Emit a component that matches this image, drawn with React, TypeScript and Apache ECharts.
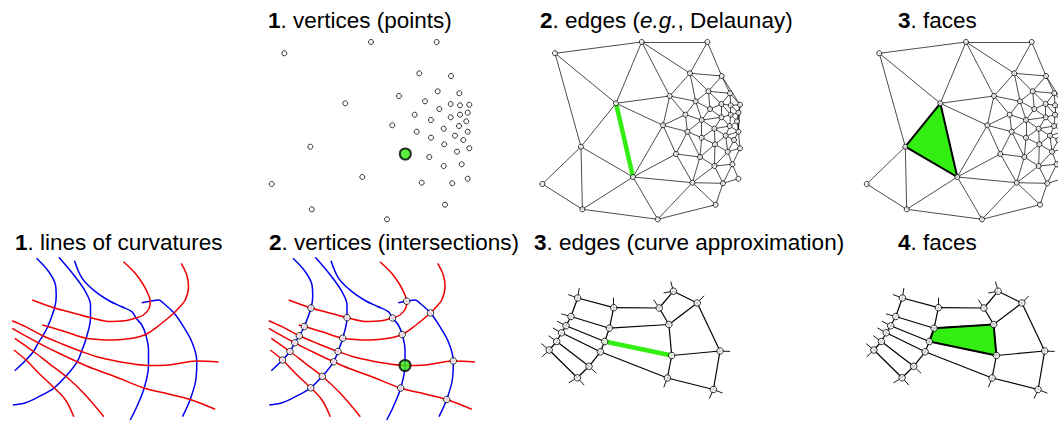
import { useEffect, useRef } from 'react';
import * as echarts from 'echarts';

// ---------------- titles ----------------
const topTitles = ['{b|1}. vertices (points)', '{b|2}. edges ({i|e.g.}, Delaunay)', '{b|3}. faces'];
const bottomTitles = ['{b|1}. lines of curvatures', '{b|2}. vertices (intersections)', '{b|3}. edges (curve approximation)', '{b|4}. faces'];

// ---------------- top row: sample points ----------------
const pointX = [284.3, 371, 436.7, 419.3, 451, 437.7, 459.3, 399, 425, 345.3, 450.7, 460, 469.3, 439.3, 467.7, 460, 414.7, 450.7, 431, 466.3, 392.3, 459, 443.7, 416.7, 467.7, 455, 431, 463.3, 444.3, 310.3, 469.3, 457, 405.3, 429.3, 461.7, 443.7, 362.3, 467.7, 421.7, 271.7, 452.3, 445, 311.7, 387];
const pointY = [53.3, 42, 42, 73.3, 76, 91.3, 93.3, 96, 101.3, 103.3, 104, 105.3, 104.7, 109, 112.7, 114.7, 114.7, 117.3, 120, 121.3, 125.3, 126, 128.7, 131.7, 131.7, 135.7, 137.7, 140, 144.3, 146.7, 148.3, 151.7, 154, 157, 164.3, 166, 177, 178.7, 182.7, 184, 183.3, 204.7, 209.3, 219.3];
const highlightPoint = 32;
const highlightEdge = [9, 36];
const highlightTriangle = [29, 9, 36];

// ---------------- bottom row: intersections of curvature lines ----------------
const vertexX = [311, 304.3, 299.3, 294.8, 290, 282.5, 347, 342.7, 338, 333.7, 322.3, 310.7, 392.5, 402.2, 405, 400.7, 406.7, 430.5, 453.3, 446.7];
const vertexY = [308, 326.5, 335.8, 342.8, 351.5, 360, 317.7, 338.2, 351.5, 361.8, 376.3, 387.8, 318, 334.5, 365.5, 388, 301.2, 313, 361, 399.5];
const highlightVertex = 14;
const highlightCurveEdge = [8, 14];
const highlightFace = [7, 13, 14, 8];

// curves: a number is a vertex index, a pair is a shaping point
type Item = number | number[];
const blueCurves: Item[][] = [
  [[293, 258.3], [305.3, 271.7], [312, 285], [312.7, 296.7], 0, 1, 2, 3, 4, 5, [271.3, 370.7]],
  [[315.3, 257.3], [330.3, 275], [342, 291.7], [347, 305], 6, 7, 8, 9, 10, 11, [295.3, 396.7], [282, 402.7], [269.3, 405]],
  [[331, 260.7], [338.7, 278.3], [352, 291.7], [366, 301], [378.3, 306.7], [388.3, 311.7], 12, [398.3, 325], 13, [405, 350], 14, 15, [393.3, 406.7], [386.7, 420]],
  [[398.3, 302.7], 16, [415, 300], [420, 303.3], 17, [440, 326.7], [448.3, 341.7], 18, [452.3, 380], 19, [439, 416.7]],
];
const redCurves: Item[][] = [
  [[380, 261.7], [391.7, 273.3], [400, 285], [405, 295], 16, [405.7, 308.3], [400, 315], 12, [381.7, 320.7], [368, 321.5], 6, [328.7, 312.7], 0, [288.7, 300]],
  [[437.7, 263.3], [443.3, 275], [445, 286.7], [441.7, 300], [435, 308.3], 17, [416, 325], 13, [388.3, 338.3], [370, 340], 7, [322, 331.7], 1, [298.7, 325]],
  [[268.7, 320.7], [282, 326.7], 2, [318.7, 344], 8, [355.3, 357.3], [381.7, 362.7], 14, [425, 365], 18, [475, 362]],
  [[268.7, 328.3], 3, [314, 352.5], 9, [348.7, 368.3], [370, 376], 15, [425, 394], 19, [471.7, 409.3]],
  [[271.3, 338.3], 4, [305.3, 363.3], 10, [340.3, 393.3], [360.3, 416.7]],
  [[270.3, 350], 5, [295.3, 373.3], 11, [322, 400], [330.3, 416.7]],
];

// ---------------- layout (styles / positions) ----------------
const TOP_SHIFT = [0, 270.7, 595];
const BOT_SHIFT_X = [-256.5, 0, 266.7, 591.4];
const BOT_SHIFT_Y = [0, 0, -10, -10];
const TOP_RANGE = { x0: 255, x1: 485, y0: 30, y1: 230 };
const BOT_RANGE = { x0: 262, x1: 482, y0: 250, y1: 430 };
const TOP_TITLE_LEFT = [268, 540, 898];
const BOT_TITLE_LEFT = [15, 269, 534, 898];
const GREEN = '#33ee11';
const BLUE = '#0000f0';
const RED = '#f00000';
const FONT = '"Liberation Sans", Arial, sans-serif';
const STUB = 10;

// ---------------- geometry helpers ----------------
function delaunay(xs: number[], ys: number[]): number[][] {
  const n = xs.length;
  const px = xs.slice();
  const py = ys.slice();
  const minX = Math.min(...xs), maxX = Math.max(...xs), minY = Math.min(...ys), maxY = Math.max(...ys);
  const d = Math.max(maxX - minX, maxY - minY) * 30;
  const cx = (minX + maxX) / 2, cy = (minY + maxY) / 2;
  px.push(cx - d, cx, cx + d);
  py.push(cy - d, cy + d, cy - d);
  const circ = (a: number, b: number, c: number) => {
    const ax = px[a], ay = py[a], bx = px[b], by = py[b], qx = px[c], qy = py[c];
    const D = 2 * (ax * (by - qy) + bx * (qy - ay) + qx * (ay - by));
    const A = ax * ax + ay * ay, B = bx * bx + by * by, C = qx * qx + qy * qy;
    const ux = (A * (by - qy) + B * (qy - ay) + C * (ay - by)) / D;
    const uy = (A * (qx - bx) + B * (ax - qx) + C * (bx - ax)) / D;
    return { a, b, c, x: ux, y: uy, r2: (ax - ux) ** 2 + (ay - uy) ** 2 };
  };
  let tris = [circ(n, n + 1, n + 2)];
  for (let i = 0; i < n; i++) {
    const good: any[] = [];
    const edges = new Map<string, number[]>();
    for (const t of tris) {
      if ((px[i] - t.x) ** 2 + (py[i] - t.y) ** 2 < t.r2) {
        for (const [u, v] of [[t.a, t.b], [t.b, t.c], [t.c, t.a]]) {
          const k = u < v ? u + '_' + v : v + '_' + u;
          const e = edges.get(k);
          if (e) e[2]++;
          else edges.set(k, [u, v, 1]);
        }
      } else good.push(t);
    }
    for (const [u, v, c] of edges.values()) if (c === 1) good.push(circ(u, v, i));
    tris = good;
  }
  return tris.filter((t) => t.a < n && t.b < n && t.c < n).map((t) => [t.a, t.b, t.c]);
}

function edgeKey(u: number, v: number) {
  return u < v ? u + '_' + v : v + '_' + u;
}

function trimHull(tris: number[][], xs: number[], ys: number[], maxDeg: number): number[][] {
  const cnt = new Map<string, number>();
  for (const t of tris)
    for (let j = 0; j < 3; j++) {
      const k = edgeKey(t[j], t[(j + 1) % 3]);
      cnt.set(k, (cnt.get(k) || 0) + 1);
    }
  return tris.filter((t) => {
    for (let j = 0; j < 3; j++) {
      const u = t[j], v = t[(j + 1) % 3], w = t[(j + 2) % 3];
      if (cnt.get(edgeKey(u, v)) !== 1) continue;
      const ax = xs[u] - xs[w], ay = ys[u] - ys[w], bx = xs[v] - xs[w], by = ys[v] - ys[w];
      const ang = (Math.acos((ax * bx + ay * by) / Math.hypot(ax, ay) / Math.hypot(bx, by)) * 180) / Math.PI;
      if (ang > maxDeg) return false;
    }
    return true;
  });
}

function uniqueEdges(tris: number[][]): number[][] {
  const m = new Map<string, number[]>();
  for (const t of tris)
    for (let j = 0; j < 3; j++) {
      const u = t[j], v = t[(j + 1) % 3];
      m.set(edgeKey(u, v), [u, v]);
    }
  return [...m.values()];
}

const P = (i: number) => [pointX[i], pointY[i]];
const V = (i: number) => [vertexX[i], vertexY[i]];
const resolve = (seq: Item[]) => seq.map((s) => (typeof s === 'number' ? V(s) : (s as number[])));

function buildOption() {
  const grid: any[] = [];
  const xAxis: any[] = [];
  const yAxis: any[] = [];
  TOP_SHIFT.forEach((sx, k) => {
    grid.push({ left: TOP_RANGE.x0 + sx, top: TOP_RANGE.y0, width: TOP_RANGE.x1 - TOP_RANGE.x0, height: TOP_RANGE.y1 - TOP_RANGE.y0, outerBoundsMode: 'none', containLabel: false });
    xAxis.push({ type: 'value', gridIndex: k, min: TOP_RANGE.x0, max: TOP_RANGE.x1, show: false });
    yAxis.push({ type: 'value', gridIndex: k, min: TOP_RANGE.y0, max: TOP_RANGE.y1, inverse: true, show: false });
  });
  BOT_SHIFT_X.forEach((sx, j) => {
    const k = j + 3;
    grid.push({ left: BOT_RANGE.x0 + sx, top: BOT_RANGE.y0 + BOT_SHIFT_Y[j], width: BOT_RANGE.x1 - BOT_RANGE.x0, height: BOT_RANGE.y1 - BOT_RANGE.y0, outerBoundsMode: 'none', containLabel: false });
    xAxis.push({ type: 'value', gridIndex: k, min: BOT_RANGE.x0, max: BOT_RANGE.x1, show: false });
    yAxis.push({ type: 'value', gridIndex: k, min: BOT_RANGE.y0, max: BOT_RANGE.y1, inverse: true, show: false });
  });

  const series: any[] = [];
  const tris = trimHull(delaunay(pointX, pointY), pointX, pointY, 110);
  const triEdges = uniqueEdges(tris);

  const smallPt = { color: '#fff', borderColor: '#000', borderWidth: 1 };
  const bigPt = { color: GREEN, borderColor: '#000', borderWidth: 2 };

  // top panels
  for (let k = 0; k < 3; k++) {
    if (k > 0) {
      series.push({
        type: 'lines', coordinateSystem: 'cartesian2d', xAxisIndex: k, yAxisIndex: k, silent: true, z: 1,
        data: triEdges.map(([a, b]) => ({ coords: [P(a), P(b)] })),
        lineStyle: { color: '#111', width: 0.75, opacity: 1 },
      });
    }
    if (k === 1) {
      series.push({
        type: 'lines', coordinateSystem: 'cartesian2d', xAxisIndex: k, yAxisIndex: k, silent: true, z: 2,
        data: [{ coords: [P(highlightEdge[0]), P(highlightEdge[1])] }],
        lineStyle: { color: GREEN, width: 4.5, opacity: 1 },
      });
    }
    if (k === 2) {
      series.push({
        type: 'custom', coordinateSystem: 'cartesian2d', xAxisIndex: k, yAxisIndex: k, silent: true, z: 2, clip: false,
        data: [P(highlightTriangle[0])],
        renderItem: (_p: any, api: any) => ({
          type: 'polygon',
          shape: { points: highlightTriangle.map((i) => api.coord(P(i))) },
          style: { fill: GREEN, stroke: '#000', lineWidth: 2, lineJoin: 'round' },
        }),
      });
    }
    series.push({
      type: 'scatter', xAxisIndex: k, yAxisIndex: k, silent: true, z: 3, symbol: 'circle', symbolSize: 5,
      data: pointX.map((_, i) => i).filter((i) => k > 0 || i !== highlightPoint).map(P),
      itemStyle: smallPt,
    });
    if (k === 0) {
      series.push({
        type: 'scatter', xAxisIndex: k, yAxisIndex: k, silent: true, z: 4, symbol: 'circle', symbolSize: 11,
        data: [P(highlightPoint)], itemStyle: bigPt,
      });
    }
  }

  // bottom graph
  const allCurves = [...blueCurves, ...redCurves];
  const graphEdges: number[][] = [];
  const stubs: number[][][] = [];
  allCurves.forEach((seq) => {
    const idx = seq.map((s, i) => (typeof s === 'number' ? i : -1)).filter((i) => i >= 0);
    for (let i = 0; i + 1 < idx.length; i++) graphEdges.push([seq[idx[i]] as number, seq[idx[i + 1]] as number]);
    const mk = (vi: number, ni: number) => {
      const v = V(seq[vi] as number);
      const q = resolve([seq[ni]])[0];
      const dx = q[0] - v[0], dy = q[1] - v[1];
      const L = Math.hypot(dx, dy);
      stubs.push([v, [v[0] + (dx / L) * STUB, v[1] + (dy / L) * STUB]]);
    };
    const f = idx[0], l = idx[idx.length - 1];
    if (f > 0) mk(f, f - 1);
    if (l < seq.length - 1) mk(l, l + 1);
  });

  for (let j = 0; j < 4; j++) {
    const k = j + 3;
    if (j < 2) {
      allCurves.forEach((seq, ci) => {
        series.push({
          type: 'line', xAxisIndex: k, yAxisIndex: k, silent: true, z: 1, smooth: 0.35, showSymbol: false, clip: false,
          data: resolve(seq),
          lineStyle: { color: ci < blueCurves.length ? BLUE : RED, width: 1.5 },
        });
      });
    } else {
      series.push({
        type: 'lines', coordinateSystem: 'cartesian2d', xAxisIndex: k, yAxisIndex: k, silent: true, z: 1,
        data: graphEdges.map(([a, b]) => ({ coords: [V(a), V(b)] })),
        lineStyle: { color: '#000', width: 1.2, opacity: 1 },
      });
      series.push({
        type: 'lines', coordinateSystem: 'cartesian2d', xAxisIndex: k, yAxisIndex: k, silent: true, z: 1,
        data: stubs.map((s) => ({ coords: s })),
        lineStyle: { color: '#000', width: 0.9, opacity: 1 },
      });
      if (j === 2) {
        series.push({
          type: 'lines', coordinateSystem: 'cartesian2d', xAxisIndex: k, yAxisIndex: k, silent: true, z: 2,
          data: [{ coords: [V(highlightCurveEdge[0]), V(highlightCurveEdge[1])] }],
          lineStyle: { color: GREEN, width: 4.5, opacity: 1 },
        });
      } else {
        series.push({
          type: 'custom', coordinateSystem: 'cartesian2d', xAxisIndex: k, yAxisIndex: k, silent: true, z: 2, clip: false,
          data: [V(highlightFace[0])],
          renderItem: (_p: any, api: any) => ({
            type: 'polygon',
            shape: { points: highlightFace.map((i) => api.coord(V(i))) },
            style: { fill: GREEN, stroke: '#000', lineWidth: 2, lineJoin: 'round' },
          }),
        });
      }
    }
    if (j > 0) {
      series.push({
        type: 'scatter', xAxisIndex: k, yAxisIndex: k, silent: true, z: 3, symbol: 'circle', symbolSize: 6.5,
        data: vertexX.map((_, i) => i).filter((i) => j > 1 || i !== highlightVertex).map(V),
        itemStyle: smallPt,
      });
      if (j === 1) {
        series.push({
          type: 'scatter', xAxisIndex: k, yAxisIndex: k, silent: true, z: 4, symbol: 'circle', symbolSize: 11,
          data: [V(highlightVertex)], itemStyle: bigPt,
        });
      }
    }
  }

  const rich = {
    b: { fontWeight: 'bold', fontSize: 22.5, lineHeight: 22.5, fontFamily: FONT, color: '#000' },
    i: { fontStyle: 'italic', fontSize: 22.5, lineHeight: 22.5, fontFamily: FONT, color: '#000' },
  };
  const mkTitle = (text: string, left: number, top: number) => ({
    text, left, top, padding: 0,
    textStyle: { fontSize: 22.5, lineHeight: 22.5, fontWeight: 'normal', fontFamily: FONT, color: '#000', rich },
  });
  const title = [
    ...topTitles.map((t, i) => mkTitle(t, TOP_TITLE_LEFT[i], 9)),
    ...bottomTitles.map((t, i) => mkTitle(t, BOT_TITLE_LEFT[i], 231)),
  ];

  return { animation: false, backgroundColor: '#fff', title, grid, xAxis, yAxis, series };
}

export default function App() {
  const ref = useRef<HTMLDivElement>(null);
  useEffect(() => {
    if (!ref.current) return;
    const chart = echarts.init(ref.current, undefined, { renderer: 'svg' });
    chart.setOption(buildOption() as any);
    return () => chart.dispose();
  }, []);
  return <div ref={ref} style={{ position: 'absolute', left: 0, top: 0, width: 1058, height: 421 }} />;
}
